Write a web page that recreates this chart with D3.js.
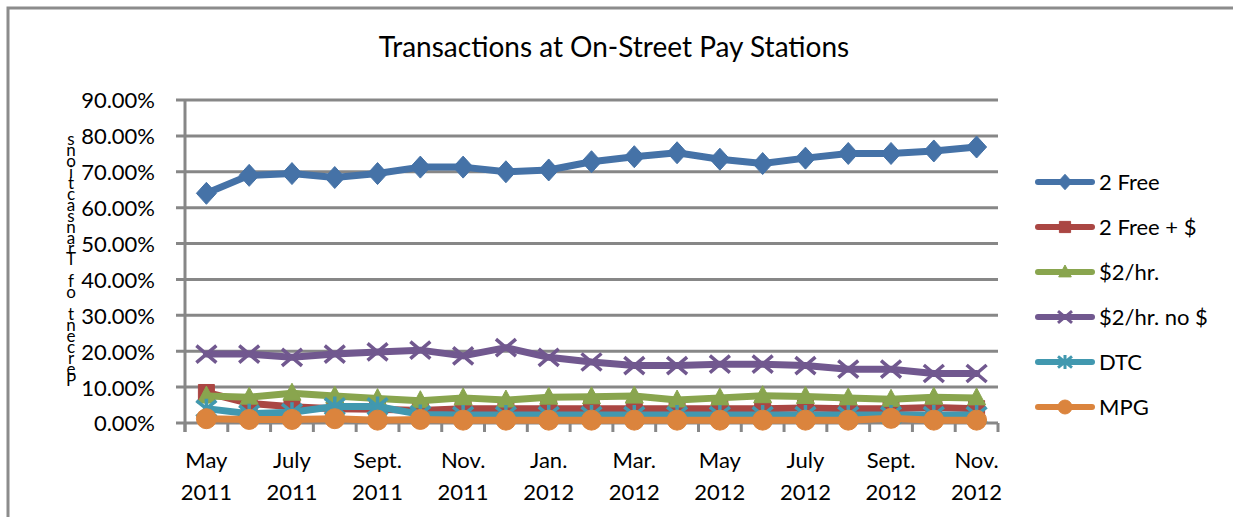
<!DOCTYPE html>
<html>
<head>
<meta charset="utf-8">
<script src="https://cdn.jsdelivr.net/npm/d3@7"></script>
<style>
  body { margin: 0; background: #fff; }
  svg text { font-family: Lato, "Open Sans", sans-serif; fill: #000; }
</style>
</head>
<body>
<div id="wrapper"></div>
<script>
// Data (share of transactions, %)
const months = ["May 2011", "June 2011", "July 2011", "Aug. 2011", "Sept. 2011", "Oct. 2011",
  "Nov. 2011", "Dec. 2011", "Jan. 2012", "Feb. 2012", "Mar. 2012", "Apr. 2012", "May 2012",
  "June 2012", "July 2012", "Aug. 2012", "Sept. 2012", "Oct. 2012", "Nov. 2012"]
const labelledMonths = ["May 2011", "July 2011", "Sept. 2011", "Nov. 2011", "Jan. 2012",
  "Mar. 2012", "May 2012", "July 2012", "Sept. 2012", "Nov. 2012"]
const yTicks = [0, 10, 20, 30, 40, 50, 60, 70, 80, 90]

const twoFree = [64.0, 69.0, 69.5, 68.4, 69.5, 71.3, 71.3, 70.0, 70.5, 72.8, 74.2, 75.3, 73.5, 72.3, 73.8, 75.1, 75.1, 75.8, 76.9]
const twoFreePlus = [8.5, 5.5, 4.5, 4.0, 3.8, 3.5, 4.0, 4.0, 4.0, 4.0, 4.0, 4.0, 4.0, 4.0, 4.2, 4.0, 4.0, 4.3, 4.0]
const twoPerHr = [7.5, 7.2, 8.3, 7.5, 6.8, 6.2, 7.0, 6.4, 7.2, 7.3, 7.5, 6.4, 7.0, 7.6, 7.4, 7.0, 6.6, 7.2, 7.0]
const twoPerHrNo = [19.2, 19.2, 18.3, 19.2, 19.8, 20.3, 18.7, 21.0, 18.3, 17.0, 16.0, 16.0, 16.4, 16.4, 16.0, 15.0, 15.0, 13.8, 13.8]
const dtc = [4.0, 2.6, 3.0, 4.6, 4.6, 2.4, 2.2, 2.2, 2.2, 2.2, 2.2, 2.2, 2.2, 2.2, 2.2, 2.2, 2.2, 2.2, 2.2]
const mpg = [1.2, 1.0, 1.0, 1.2, 0.8, 1.0, 0.8, 0.8, 0.8, 0.8, 0.8, 0.8, 0.8, 0.8, 0.8, 0.8, 1.3, 0.8, 0.8]

const seriesNames = ["2 Free", "2 Free + $", "$2/hr.", "$2/hr. no $", "DTC", "MPG"]
const seriesValues = [twoFree, twoFreePlus, twoPerHr, twoPerHrNo, dtc, mpg]
const colors = ["#4572A7", "#AA4643", "#89A54E", "#71588F", "#4198AF", "#DB843D"]
const markers = ["diamond", "square", "triangle", "x", "star", "circle"]

const width = 1233
const height = 517
const plot = { left: 185, right: 998, top: 100, bottom: 423 }

const svg = d3.select("#wrapper").append("svg")
  .attr("width", width)
  .attr("height", height)

// chart border
svg.append("path")
  .attr("d", `M8,${height + 5} L8,8 L${width + 5},8`)
  .attr("fill", "none")
  .attr("stroke", "#8c8c8c")
  .attr("stroke-width", 3)

svg.append("text")
  .attr("x", 614)
  .attr("y", 57)
  .attr("text-anchor", "middle")
  .style("font-size", "28px")
  .text("Transactions at On-Street Pay Stations")

// scales
const xScale = d3.scaleBand().domain(months).range([plot.left, plot.right])
const xCenter = (m) => xScale(m) + xScale.bandwidth() / 2
const yScale = d3.scaleLinear().domain([0, 90]).range([plot.bottom, plot.top])

const gridColor = "#878787"

// gridlines
svg.append("g")
  .selectAll("line")
  .data(yTicks)
  .join("line")
  .attr("x1", plot.left - 9)
  .attr("x2", plot.right)
  .attr("y1", (d) => yScale(d))
  .attr("y2", (d) => yScale(d))
  .attr("stroke", gridColor)
  .attr("stroke-width", 3)

// y axis
const yAxis = svg.append("g")
  .attr("transform", `translate(${plot.left - 27},0)`)
  .call(d3.axisLeft(yScale).tickValues(yTicks).tickSize(0).tickFormat((d) => d3.format(".2f")(d) + "%"))
yAxis.select(".domain").remove()
yAxis.selectAll("text").style("font-size", "22px").attr("dy", "0.36em")

svg.append("line")
  .attr("x1", plot.left).attr("x2", plot.left)
  .attr("y1", plot.top).attr("y2", plot.bottom + 9)
  .attr("stroke", gridColor).attr("stroke-width", 3)

// x category boundary ticks
svg.append("g")
  .selectAll("line")
  .data(months.concat([null]))
  .join("line")
  .attr("x1", (d) => d ? xScale(d) : plot.right)
  .attr("x2", (d) => d ? xScale(d) : plot.right)
  .attr("y1", plot.bottom)
  .attr("y2", plot.bottom + 9)
  .attr("stroke", gridColor)
  .attr("stroke-width", 3)

// x labels (two lines)
const xLabels = svg.append("g")
  .selectAll("text")
  .data(labelledMonths)
  .join("text")
  .attr("x", (d) => xCenter(d))
  .attr("y", 468)
  .attr("text-anchor", "middle")
  .style("font-size", "22px")
xLabels.append("tspan").attr("x", (d) => xCenter(d)).text((d) => d.split(" ")[0])
xLabels.append("tspan").attr("x", (d) => xCenter(d)).attr("dy", 32).text((d) => d.split(" ")[1])

// y axis title: letters stacked bottom-to-top
const yTitle = "Percent of Transactions".split("")
const yTitleScale = d3.scalePoint().domain(d3.range(yTitle.length)).range([380, 139])
svg.append("g")
  .selectAll("text")
  .data(yTitle)
  .join("text")
  .attr("x", 71)
  .attr("y", (d, i) => yTitleScale(i))
  .attr("text-anchor", "middle")
  .attr("dy", "0.35em")
  .style("font-size", "17px")
  .text((d) => d)

// marker shapes
function markerPath(type, s) {
  switch (type) {
    case "diamond": return `M0,${-s * 1.1}L${s},0L0,${s * 1.1}L${-s},0Z`
    case "square": return `M${-s * 0.8},${-s * 0.8}h${s * 1.6}v${s * 1.6}h${-s * 1.6}Z`
    case "triangle": return `M0,${-s}L${s * 0.9},${s * 0.7}L${-s * 0.9},${s * 0.7}Z`
    case "x": return `M${-s},${-s * 0.85}L${s},${s * 0.85}M${s},${-s * 0.85}L${-s},${s * 0.85}`
    case "star": return `M${-s},${-s * 0.8}L${s},${s * 0.8}M${s},${-s * 0.8}L${-s},${s * 0.8}M0,${-s}L0,${s}`
    case "circle": return d3.symbol(d3.symbolCircle, Math.PI * s * s)()
  }
}
const stroked = (type) => type === "x" || type === "star"

const line = d3.line()
  .x((d, i) => xCenter(months[i]))
  .y((d) => yScale(d))

seriesValues.forEach((values, k) => {
  const g = svg.append("g")
  g.append("path")
    .attr("d", line(values))
    .attr("fill", "none")
    .attr("stroke", colors[k])
    .attr("stroke-width", 7)
    .attr("stroke-linejoin", "round")
    .attr("stroke-linecap", "round")
  g.selectAll(".marker")
    .data(values)
    .join("path")
    .attr("class", "marker")
    .attr("transform", (d, i) => `translate(${xCenter(months[i])},${yScale(d)})`)
    .attr("d", markerPath(markers[k], 10))
    .attr("fill", stroked(markers[k]) ? "none" : colors[k])
    .attr("stroke", colors[k])
    .attr("stroke-width", stroked(markers[k]) ? 3.5 : 1)
})

// legend
const legendY = d3.scalePoint().domain(seriesNames).range([182, 407])
const legend = svg.append("g")
  .selectAll("g")
  .data(seriesNames)
  .join("g")
  .attr("transform", (d) => `translate(1035,${legendY(d)})`)
legend.append("line")
  .attr("x1", 3).attr("x2", 57)
  .attr("stroke", (d, i) => colors[i])
  .attr("stroke-width", 6)
  .attr("stroke-linecap", "round")
legend.append("path")
  .attr("transform", "translate(30,0)")
  .attr("d", (d, i) => markerPath(markers[i], 7))
  .attr("fill", (d, i) => stroked(markers[i]) ? "none" : colors[i])
  .attr("stroke", (d, i) => colors[i])
  .attr("stroke-width", (d, i) => stroked(markers[i]) ? 3 : 1)
legend.append("text")
  .attr("x", 64)
  .attr("dy", "0.36em")
  .style("font-size", "22px")
  .text((d) => d)
</script>
</body>
</html>
